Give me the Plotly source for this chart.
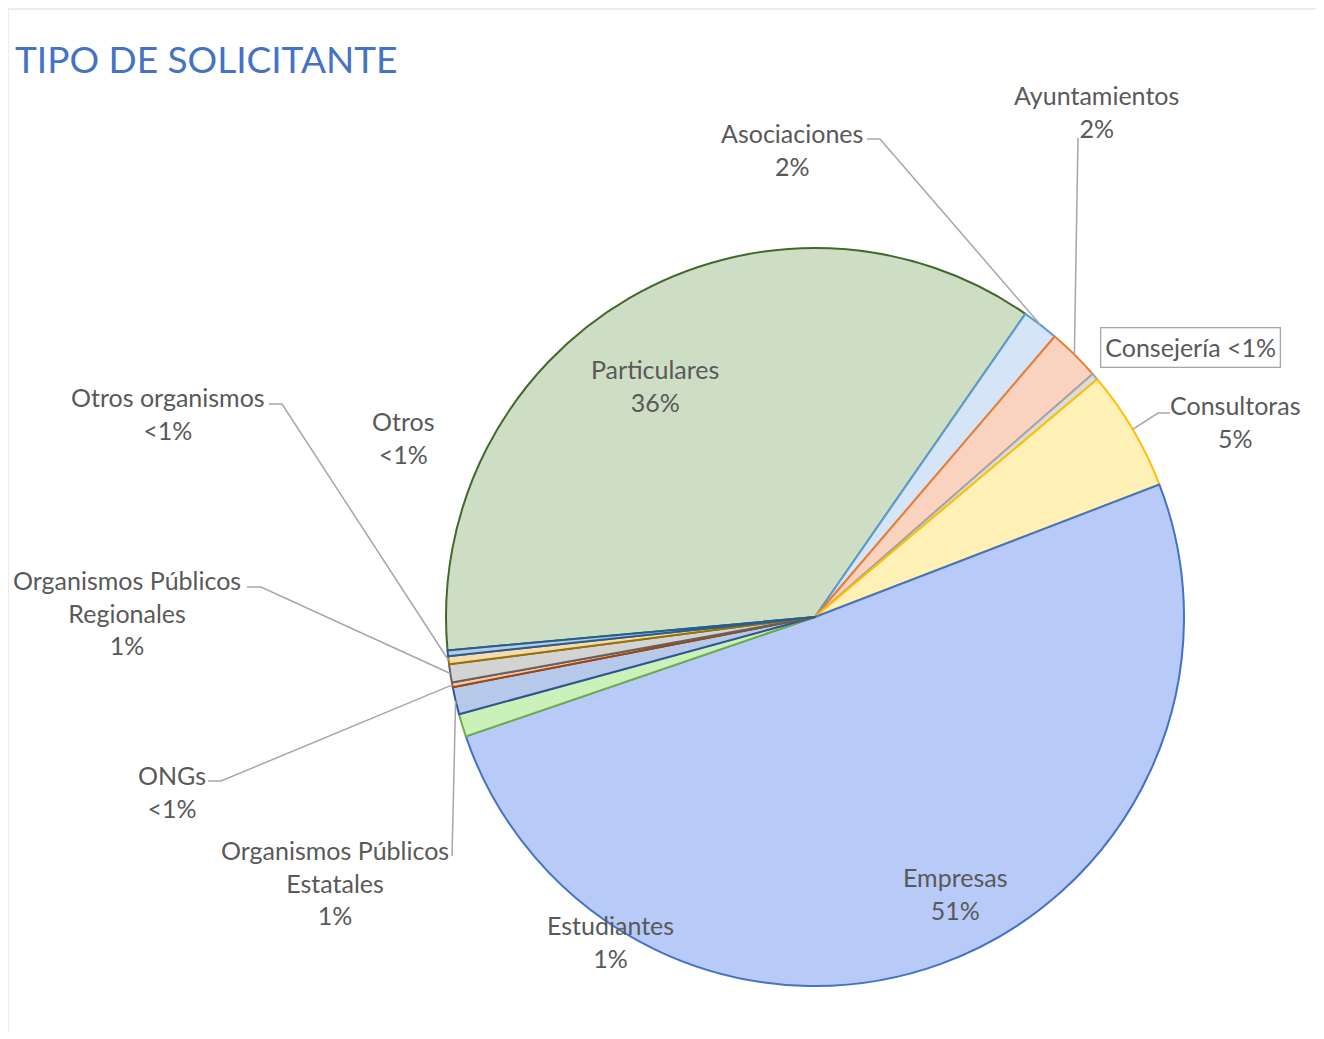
import math
import plotly.graph_objects as go

# ---------------- data (clockwise order, starting with Particulares) ----------------
categories = ["Particulares", "Asociaciones", "Ayuntamientos", "Consejería", "Consultoras",
              "Empresas", "Estudiantes", "Organismos Públicos Estatales", "ONGs",
              "Organismos Públicos Regionales", "Otros organismos", "Otros"]
shares = [36.1, 1.6, 2.3, 0.3, 5.3, 50.6, 1.0, 1.2, 0.2, 0.8, 0.35, 0.25]

fill_colors = ["#CEDEC4", "#D5E5F7", "#FAD3C0", "#DCDCDC", "#FFF0B5", "#B8CAF8",
               "#C9F1B9", "#B7C9EA", "#F6C8AA", "#D3D3D3", "#F5DCB0", "#B8CAE6"]
line_colors = ["#43682B", "#5B9BD5", "#ED7D31", "#A5A5A5", "#FFC000", "#4472C4",
               "#70AD47", "#2F5597", "#9E480E", "#636363", "#997300", "#255E91"]

# ---------------- geometry / layout ----------------
OFF = 8                      # page body margin of the browser
W, H = 1324 - OFF, 1039 - 2 * OFF
PIE_CX, PIE_CY, PIE_R = 815, 617, 369   # in screenshot pixels
START_ANGLE = 264.8  # degrees clockwise from 12 o'clock

def px(x):
    return (x - OFF) / W

def py(y):
    return 1 - (y - OFF) / H

total = sum(shares)

def pct_text(v):
    p = v / total * 100
    return "<1%" if p < 0.5 else f"{round(p)}%"

def mid_edge(i, r_frac=1.0):
    before = sum(shares[:i])
    ang = START_ANGLE + (before + shares[i] / 2) / total * 360
    a = math.radians(ang)
    return PIE_CX + PIE_R * r_frac * math.sin(a), PIE_CY - PIE_R * r_frac * math.cos(a)

fig = go.Figure(go.Pie(
    labels=categories,
    values=shares,
    sort=False,
    direction="clockwise",
    rotation=START_ANGLE - 360,
    textinfo="none",
    hoverinfo="label+percent",
    marker=dict(colors=fill_colors, line=dict(color=line_colors, width=2)),
    domain=dict(x=[px(PIE_CX - PIE_R), px(PIE_CX + PIE_R)],
                y=[py(PIE_CY + PIE_R), py(PIE_CY - PIE_R)]),
    showlegend=False,
))

# label placements: (center x, center y, line separator, leader path points before slice edge)
label_pos = {
    "Particulares": (655, 385, "<br>", None),
    "Asociaciones": (792, 149, "<br>", [(867, 139), (880, 139)]),
    "Ayuntamientos": (1096, 111, "<br>", [(1078, 138)]),
    "Consejería": (1190, 348, " ", None),
    "Consultoras": (1235, 421, "<br>", [(1170, 413), (1158, 413)]),
    "Empresas": (955, 893, "<br>", None),
    "Estudiantes": (610, 941, "<br>", None),
    "Organismos Públicos Estatales": (335, 882, "<br>", [(452, 856)]),
    "ONGs": (172, 791, "<br>", [(208, 781), (221, 781)]),
    "Organismos Públicos Regionales": (127, 612, "<br>", [(247, 587), (261, 587)]),
    "Otros organismos": (168, 413, "<br>", [(269, 404), (282, 404)]),
    "Otros": (403, 437, "<br>", None),
}

annotations = []
shapes = []
for i, (name, v) in enumerate(zip(categories, shares)):
    x, y, sep, leader = label_pos[name]
    disp = name.replace("Públicos ", "Públicos<br>")
    ann = dict(x=px(x), y=py(y), xref="paper", yref="paper", showarrow=False,
               text=disp + sep + pct_text(v), xanchor="center", yanchor="middle",
               font=dict(family="Lato", size=25, color="#595959"), align="center")
    if name == "Consejería":
        ann.update(bordercolor="#A6A6A6", borderwidth=1.3, borderpad=4, bgcolor="white")
    annotations.append(ann)
    if leader:
        ex, ey = mid_edge(i)
        pts = leader + [(ex, ey)]
        path = "M " + " L ".join(f"{px(a):.5f},{py(b):.5f}" for a, b in pts)
        shapes.append(dict(type="path", xref="paper", yref="paper", path=path,
                           line=dict(color="#A6A6A6", width=1.5)))

# outer chart border
shapes.append(dict(type="rect", xref="paper", yref="paper", x0=px(8), x1=px(1322),
                   y0=-0.05, y1=py(9), line=dict(color="#D9D9D9", width=1), layer="below"))

annotations.append(dict(x=px(13), y=py(59), xref="paper", yref="paper", showarrow=False,
                        text="TIPO DE SOLICITANTE", xanchor="left", yanchor="middle",
                        font=dict(family="Lato", size=37, color="#4472C4")))

fig.update_layout(
    width=W, height=H,
    margin=dict(l=0, r=0, t=0, b=0),
    paper_bgcolor="white", plot_bgcolor="white",
    annotations=annotations, shapes=shapes,
)

fig.write_html("out.html")
